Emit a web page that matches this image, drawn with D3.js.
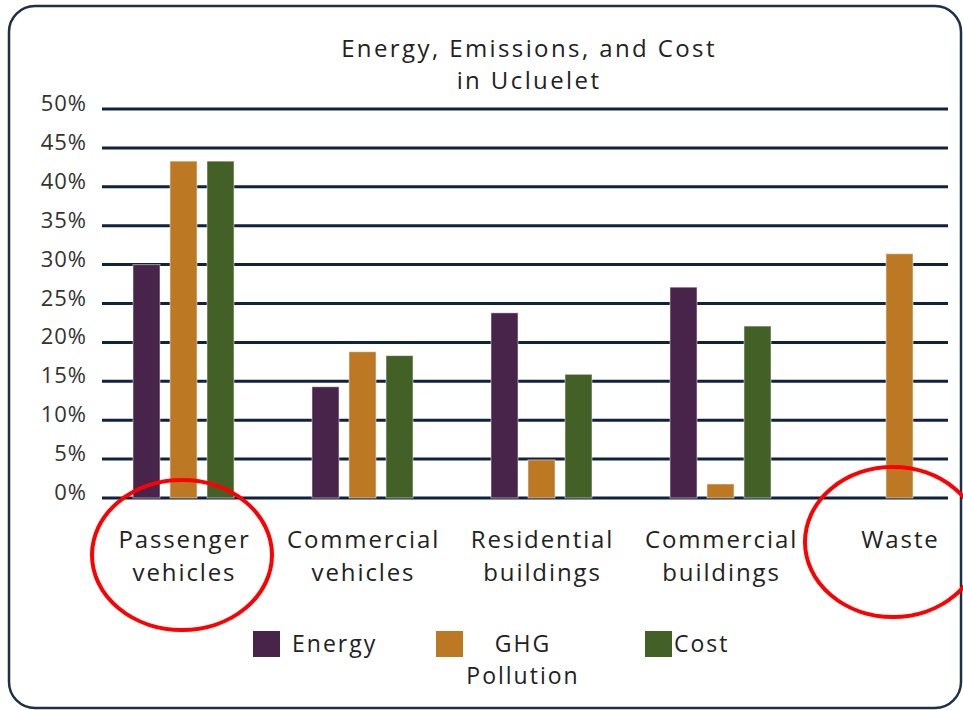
<!DOCTYPE html>
<html>
<head>
<meta charset="utf-8">
<script src="https://cdn.jsdelivr.net/npm/d3@7"></script>
<style>
  html, body { margin: 0; padding: 0; background: #fff; }
  svg { display: block; font-family: "Open Sans", "DejaVu Sans", sans-serif; }
</style>
</head>
<body>
<div id="chart"></div>
<script>
// categories and series
const categories = [['Passenger', 'vehicles'], ['Commercial', 'vehicles'], ['Residential', 'buildings'], ['Commercial', 'buildings'], ['Waste']]
const series = ['Energy', 'GHG Pollution', 'Cost']
const energy = [30, 14.3, 23.8, 27.1, 0]
const ghg = [43.3, 18.8, 4.9, 1.8, 31.4]
const cost = [43.3, 18.3, 15.9, 22.1, 0]
const yTicks = [0, 5, 10, 15, 20, 25, 30, 35, 40, 45, 50]
const colors = ['#48244a', '#bc7823', '#436027']

const width = 963
const height = 710

const svg = d3.select('#chart')
  .append('svg')
  .attr('width', width)
  .attr('height', height)
  .attr('viewBox', [0, 0, width, height])

// outer rounded frame
svg.append('rect')
  .attr('x', 9).attr('y', 6)
  .attr('width', 952).attr('height', 702)
  .attr('rx', 26)
  .attr('fill', '#fff')
  .attr('stroke', '#1f2f4a')
  .attr('stroke-width', 2.5)

// title
const titleLines = ['Energy, Emissions, and Cost', 'in Ucluelet']
svg.append('g')
  .selectAll('text')
  .data(titleLines)
  .join('text')
  .attr('x', 529)
  .attr('y', (d, i) => 57 + i * 32)
  .attr('text-anchor', 'middle')
  .style('font-size', '24px')
  .style('letter-spacing', '2.4px')
  .style('fill', '#222')
  .text(d => d)

const y = d3.scaleLinear().domain([0, 50]).range([498, 109])

const x = d3.scaleBand()
  .domain(d3.range(categories.length))
  .range([94, 989])

const xs = d3.scaleBand()
  .domain(series)
  .range([-55.5, 55.5])
  .paddingInner(0.27)
  .paddingOuter(0.135)

// gridlines
svg.append('g')
  .selectAll('line')
  .data(yTicks)
  .join('line')
  .attr('x1', 102)
  .attr('x2', 948)
  .attr('y1', d => y(d))
  .attr('y2', d => y(d))
  .attr('stroke', '#0f2340')
  .attr('stroke-width', 3)

// y tick labels
svg.append('g')
  .selectAll('text')
  .data(yTicks)
  .join('text')
  .attr('x', 87)
  .attr('y', d => y(d) + 2)
  .attr('text-anchor', 'end')
  .style('font-size', '22px')
  .style('letter-spacing', '1px')
  .style('fill', '#333')
  .text(d => d + '%')

// bars
const values = [energy, ghg, cost]
const barData = []
categories.forEach((c, i) => {
  series.forEach((s, j) => {
    barData.push({ cat: i, series: s, idx: j, value: values[j][i] })
  })
})

svg.append('g')
  .selectAll('rect')
  .data(barData.filter(d => d.value > 0))
  .join('rect')
  .attr('x', d => x(d.cat) + x.bandwidth() / 2 + xs(d.series))
  .attr('width', xs.bandwidth())
  .attr('y', d => y(d.value))
  .attr('height', d => y(0) - y(d.value))
  .attr('fill', d => colors[d.idx])
  .attr('stroke', 'rgba(255,255,255,0.5)')
  .attr('stroke-width', 1)

// category labels
const catG = svg.append('g')
  .selectAll('text')
  .data(categories)
  .join('text')
  .attr('text-anchor', 'middle')
  .attr('transform', (d, i) => `translate(${x(i) + x.bandwidth() / 2 + 1},548)`)
  .style('font-size', '24px')
  .style('letter-spacing', '1.9px')
  .style('fill', '#222')

catG.selectAll('tspan')
  .data(d => d)
  .join('tspan')
  .attr('x', 0)
  .attr('dy', (d, i) => i === 0 ? 0 : 33)
  .text(d => d)

// legend
const legendItems = [
  { label: ['Energy'], sx: 253, tx: 292, anchor: 'start' },
  { label: ['GHG', 'Pollution'], sx: 436, tx: 523, anchor: 'middle' },
  { label: ['Cost'], sx: 645, tx: 674, anchor: 'start' }
]

const legend = svg.append('g')
legendItems.forEach((item, i) => {
  legend.append('rect')
    .attr('x', item.sx).attr('y', 631)
    .attr('width', 27).attr('height', 26)
    .attr('fill', colors[i])
  const t = legend.append('text')
    .attr('text-anchor', item.anchor)
    .attr('transform', `translate(${item.tx},652)`)
    .style('font-size', '23px')
    .style('letter-spacing', '2px')
    .style('fill', '#222')
  t.selectAll('tspan')
    .data(item.label)
    .join('tspan')
    .attr('x', 0)
    .attr('dy', (d, k) => k === 0 ? 0 : 32)
    .text(d => d)
})

// red annotation circles
svg.append('ellipse')
  .attr('cx', 182).attr('cy', 555)
  .attr('rx', 90).attr('ry', 75)
  .attr('fill', 'none')
  .attr('stroke', '#f00')
  .attr('stroke-width', 4)

svg.append('ellipse')
  .attr('cx', 893).attr('cy', 542)
  .attr('rx', 88).attr('ry', 75)
  .attr('fill', 'none')
  .attr('stroke', '#f00')
  .attr('stroke-width', 4)
</script>
</body>
</html>
